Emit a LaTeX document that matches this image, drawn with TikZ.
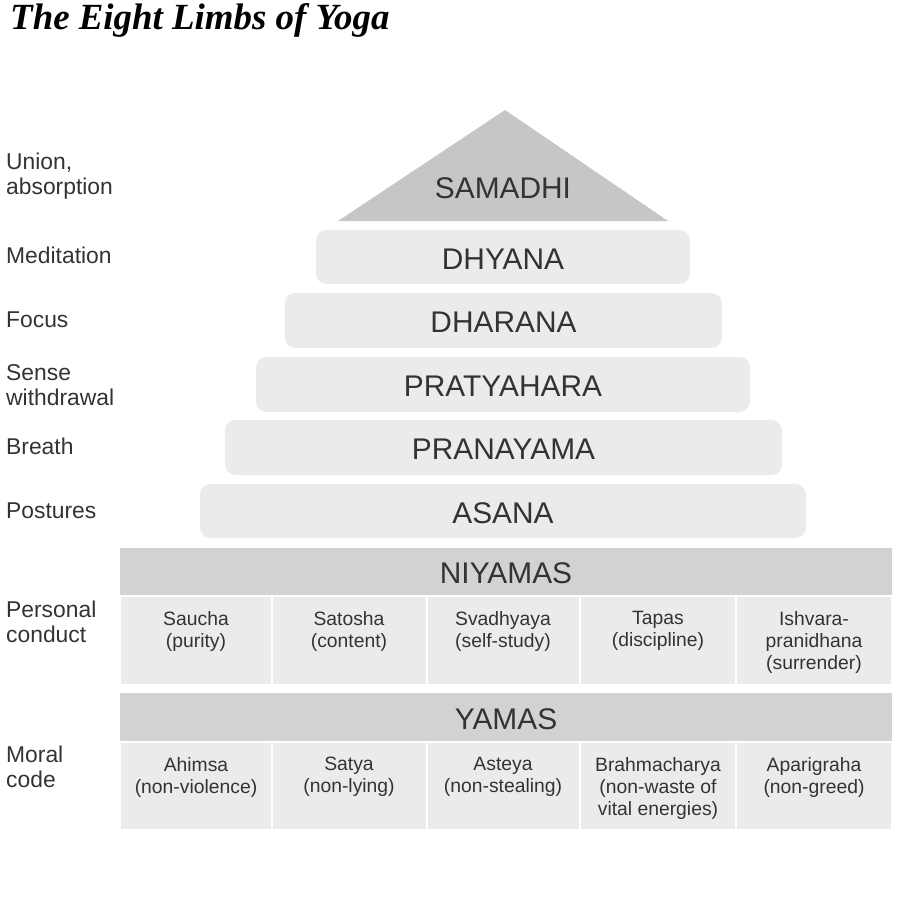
\documentclass[tikz,border=0pt]{standalone}
\usepackage{fontspec}
\setmainfont{Liberation Sans}
\newfontfamily\titlefont{Liberation Serif}
\usetikzlibrary{positioning}
\definecolor{ink}{HTML}{333333}
\definecolor{layer}{HTML}{EBEBEB}
\definecolor{peak}{HTML}{C6C6C6}
\definecolor{band}{HTML}{D2D2D2}
\tikzset{
  limb/.style={fill=layer, draw=none, rounded corners=6pt},
  limbtext/.style={text=ink, font=\fontsize{17}{19}\selectfont},
  side/.style={text=ink, anchor=west, align=left, font=\fontsize{13}{14.5}\selectfont},
  cell/.style={fill=layer, draw=white, line width=1.5pt},
  celltext/.style={text=ink, align=center, font=\fontsize{11}{12.5}\selectfont},
}
\begin{document}
\begin{tikzpicture}[x=0.02cm, y=-0.02cm]
  \useasboundingbox (0,0) rectangle (915,919);

  \node[anchor=west, font=\titlefont\bfseries\itshape\fontsize{21}{24}\selectfont, text=black] (title) at (4,20) {The Eight Limbs of Yoga};

  % top of the pyramid
  \fill[peak] (505,110) -- (668,221) -- (338,221) -- cycle;
  \node[limbtext] (samadhi) at (503,188) {SAMADHI};

  % stacked limbs
  \foreach \name/\xa/\xb/\ya/\yb in {DHYANA/316/690/230/284, DHARANA/285/722/293/348,
      PRATYAHARA/256/750/357/412, PRANAYAMA/225/782/420/475, ASANA/200/806/484/538} {
    \fill[limb] (\xa,\ya) rectangle (\xb,\yb);
    \node[limbtext] (\name) at ({(\xa+\xb)/2},{(\ya+\yb)/2+2}) {\name};
  }

  % niyamas
  \fill[band] (120,548) rectangle (892,596);
  \node[limbtext] (niyamas) at (506,573) {NIYAMAS};
  \foreach \xa/\xb in {120/272, 272/427, 427/580, 580/736, 736/892}
    \fill[cell] (\xa,596) rectangle (\xb,685);
  \node[celltext, anchor=north] (saucha) at (196,605) {Saucha\\(purity)};
  \node[celltext, anchor=north] (satosha) at (349,605) {Satosha\\(content)};
  \node[celltext, anchor=north] (svadhyaya) at (503,605) {Svadhyaya\\(self-study)};
  \node[celltext, anchor=north] (tapas) at (658,605) {Tapas\\(discipline)};
  \node[celltext, anchor=north] (ishvara) at (814,605) {Ishvara-\\pranidhana\\(surrender)};

  % yamas
  \fill[band] (120,693) rectangle (892,742);
  \node[limbtext] (yamas) at (506,719) {YAMAS};
  \foreach \xa/\xb in {120/272, 272/427, 427/580, 580/736, 736/892}
    \fill[cell] (\xa,742) rectangle (\xb,830);
  \node[celltext, anchor=north] (ahimsa) at (196,751) {Ahimsa\\(non-violence)};
  \node[celltext, anchor=north] (satya) at (349,751) {Satya\\(non-lying)};
  \node[celltext, anchor=north] (asteya) at (503,751) {Asteya\\(non-stealing)};
  \node[celltext, anchor=north] (brahma) at (658,751) {Brahmacharya\\(non-waste of\\vital energies)};
  \node[celltext, anchor=north] (aparigraha) at (814,751) {Aparigraha\\(non-greed)};

  % left labels
  \node[side] (union) at (0,176) {Union,\\absorption};
  \node[side] (meditation) at (0,255) {Meditation};
  \node[side] (focus) at (0,320) {Focus};
  \node[side] (sense) at (0,385) {Sense\\withdrawal};
  \node[side] (breath) at (0,446) {Breath};
  \node[side] (postures) at (0,511) {Postures};
  \node[side] (personal) at (0,622) {Personal\\conduct};
  \node[side] (moral) at (0,767) {Moral\\code};
\end{tikzpicture}
\end{document}
